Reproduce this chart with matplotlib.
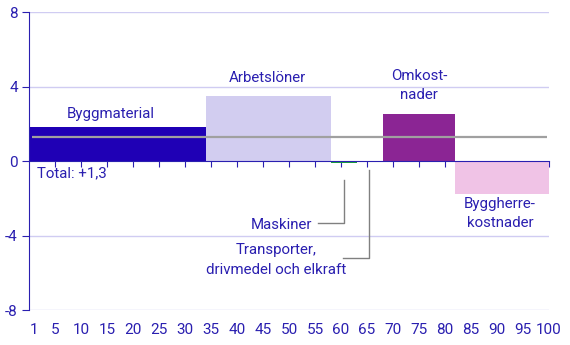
import matplotlib
matplotlib.use('Agg')
import matplotlib.pyplot as plt

# Data
kategorier = ['Byggmaterial', 'Arbetslöner', 'Maskiner',
              'Transporter, drivmedel och elkraft', 'Omkostnader', 'Byggherrekostnader']
vikter = [34, 24, 5, 5, 14, 18]          # andel (bredd) per kategori
bidrag = [1.83, 3.5, -0.1, 0.0, 2.53, -1.74]
farger = ['#1f00b5', '#d2cdf0', '#1a9e3a', '#1a9e3a', '#8b2594', '#f0c3e6']
total = 1.3
xticks = [1] + list(range(5, 101, 5))
yticks = [-8, -4, 0, 4, 8]

TEXT = '#2a1fb0'
plt.rcParams['font.family'] = ['Roboto', 'DejaVu Sans']
plt.rcParams['font.size'] = 10.8

fig = plt.figure(figsize=(5.7, 3.45), dpi=100)
ax = fig.add_axes([0.051, 0.101, 0.912, 0.864])

# staplar med variabel bredd
vansterkant = [sum(vikter[:i]) for i in range(len(vikter))]
ax.bar(vansterkant, bidrag, width=vikter, align='edge', color=farger, zorder=2)

# totallinje
ax.hlines(total, 0.5, 99.7, color='#a0a0a0', lw=1.6, zorder=3)

ax.set_xlim(0, 100)
ax.set_ylim(-8, 8)
ax.set_yticks(yticks)
ax.set_yticklabels([str(v) for v in yticks])
for y in [-8, -4, 4, 8]:
    ax.axhline(y, color='#d0ccf2', lw=1, zorder=1)

for s in ['top', 'right']:
    ax.spines[s].set_visible(False)
ax.spines['left'].set_color('#2a1fb0')
ax.spines['bottom'].set_color('#2a1fb0')
ax.spines['bottom'].set_position(('data', 0))
ax.spines['bottom'].set_zorder(4)
ax.tick_params(axis='y', colors=TEXT, length=5, labelsize=11, pad=3)
ax.tick_params(axis='x', colors=TEXT, length=4, labelbottom=False)
ax.set_xticks(xticks[1:])

# x-etiketter längst ner
sek = ax.secondary_xaxis(0.0)
sek.set_xticks(xticks)
sek.set_xticklabels([str(v) for v in xticks])
sek.tick_params(length=0, colors=TEXT, labelsize=11, pad=9)
sek.spines['bottom'].set_visible(False)

# etiketter
ax.text(15.8, 2.55, 'Byggmaterial', color=TEXT, ha='center', va='center')
ax.text(45.8, 4.45, 'Arbetslöner', color=TEXT, ha='center', va='center')
ax.text(75, 4.06, 'Omkost-\nnader', color=TEXT, ha='center', va='center', linespacing=1.5)
ax.text(90.6, -2.8, 'Byggherre-\nkostnader', color=TEXT, ha='center', va='center', linespacing=1.5)
ax.text(1.5, -0.65, 'Total: +1,3', color=TEXT, ha='left', va='center')

# Maskiner med hänvisningslinje
ax.plot([55.6, 60.6, 60.6], [-3.33, -3.33, -1.0], color='#808080', lw=1)
ax.text(54.4, -3.44, 'Maskiner', color=TEXT, ha='right', va='center')

# Transporter med hänvisningslinje
ax.plot([60.3, 65.4, 65.4], [-5.2, -5.2, -0.5], color='#808080', lw=1)
ax.text(47.6, -5.3, 'Transporter,\ndrivmedel och elkraft', color=TEXT,
        ha='center', va='center', linespacing=1.5)

fig.savefig('out.png', dpi=100)
